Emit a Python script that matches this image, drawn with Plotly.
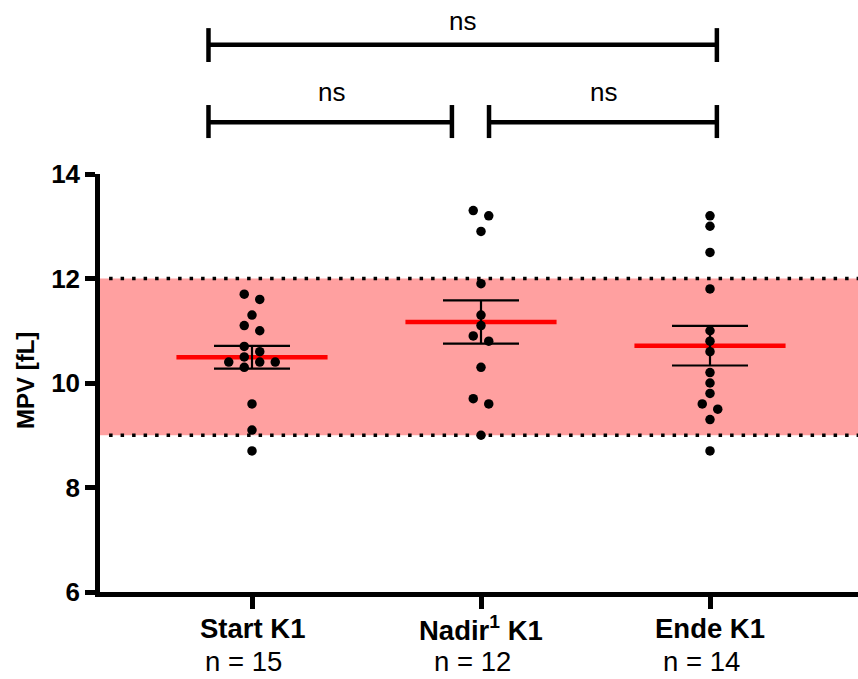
import numpy as np
import plotly.graph_objects as go

# ---------------- data ----------------
categories = ["Start K1", "Nadir<sup>1</sup> K1", "Ende K1"]
n_labels = ["n = 15", "n = 12", "n = 14"]
start_k1 = [11.7, 11.6, 11.3, 11.1, 11.0, 10.7, 10.6, 10.5, 10.4, 10.4, 10.4, 10.3, 9.6, 9.1, 8.7]
nadir_k1 = [13.3, 13.2, 12.9, 11.9, 11.3, 11.1, 10.9, 10.8, 10.3, 9.7, 9.6, 9.0]
ende_k1 = [13.2, 13.0, 12.5, 11.8, 11.0, 10.8, 10.6, 10.2, 10.0, 9.8, 9.6, 9.5, 9.3, 8.7]
groups = [start_k1, nadir_k1, ende_k1]
ref_low, ref_high = 9, 12
y_ticks = [6, 8, 10, 12, 14]
y_title = "MPV [fL]"
sig_labels = ["ns", "ns", "ns"]

# ---------------- style / layout ----------------
W, H = 858, 679
M_L, M_R, M_T, M_B = 100, 0, 174, 87
Y_RANGE = [6, 14]
CAT_PX = 229.0            # px between categories
CAT0_PX = 152.0           # px from left plot edge to first category
plot_w = W - M_L - M_R
plot_h = H - M_T - M_B
X_RANGE = [-CAT0_PX / CAT_PX, (plot_w - CAT0_PX) / CAT_PX]
px_per_unit_y = plot_h / (Y_RANGE[1] - Y_RANGE[0])

FONT = "Liberation Sans, Arial, Helvetica, sans-serif"
BAND_COLOR = "#FFA0A0"
LW = 4.5

# bracket layout (x ends in category units, levels in paper units)
brackets = [
    dict(x0=-0.19, x1=2.03, y=1.309, ytop=1.349, ybot=1.268, tx=0.921, ty=1.366),
    dict(x0=-0.19, x1=0.873, y=1.124, ytop=1.165, ybot=1.086, tx=0.345, ty=1.197),
    dict(x0=1.035, x1=2.03, y=1.124, ytop=1.165, ybot=1.086, tx=1.533, ty=1.197),
]


def swarm_offsets(vals, step_px=7.75, min_dist=9.5):
    """Beeswarm offsets (category units) from the values: isolated points
    stay centred, overlapping clusters are spread on a half-step grid."""
    order = np.argsort(-np.asarray(vals), kind="stable")
    ys = np.asarray(vals, dtype=float) * px_per_unit_y
    clusters, cur = [], [order[0]]
    for a, b in zip(order[:-1], order[1:]):
        if abs(ys[a] - ys[b]) < min_dist:
            cur.append(b)
        else:
            clusters.append(cur)
            cur = [b]
    clusters.append(cur)
    offs = np.zeros(len(vals))
    for cl in clusters:
        if len(cl) == 1:
            continue
        placed = []
        for idx in cl:
            k = 1
            cands = []
            while len(cands) < 20:
                cands += [-k * step_px, k * step_px]
                k += 2
            for cx in cands:
                if all((cx - px) ** 2 + (ys[idx] - py) ** 2 >= min_dist ** 2 for px, py in placed):
                    break
            placed.append((cx, ys[idx]))
            offs[idx] = cx
    return offs / CAT_PX


fig = go.Figure()

# reference band
fig.add_shape(type="rect", xref="paper", yref="y", x0=0, x1=1, y0=ref_low, y1=ref_high,
              fillcolor=BAND_COLOR, line_width=0, layer="below")
for yv in (ref_low, ref_high):
    fig.add_shape(type="line", xref="paper", yref="y", x0=0.012, x1=1, y0=yv, y1=yv,
                  line=dict(color="black", width=3.5, dash="3.5px,8px"), layer="below")

for i, vals in enumerate(groups):
    arr = np.asarray(vals, dtype=float)
    mean = arr.mean()
    sem = arr.std(ddof=1) / np.sqrt(len(arr))
    fig.add_trace(go.Scatter(x=[i - 0.33, i + 0.33], y=[mean, mean], mode="lines",
                             line=dict(color="#FF0000", width=4.5), hoverinfo="skip"))
    fig.add_trace(go.Scatter(x=[i], y=[mean], mode="markers", marker=dict(size=1, opacity=0),
                             error_y=dict(type="data", array=[sem], symmetric=True,
                                          color="black", thickness=2.2, width=38),
                             hoverinfo="skip"))
    offs = swarm_offsets(vals)
    fig.add_trace(go.Scatter(x=i + offs, y=arr, mode="markers",
                             marker=dict(color="black", size=9.5, line_width=0)))

# significance brackets
for b, lab in zip(brackets, sig_labels):
    fig.add_shape(type="line", xref="x", yref="paper", x0=b["x0"], x1=b["x1"], y0=b["y"], y1=b["y"],
                  line=dict(color="black", width=LW))
    for xe in (b["x0"], b["x1"]):
        fig.add_shape(type="line", xref="x", yref="paper", x0=xe, x1=xe, y0=b["ybot"], y1=b["ytop"],
                      line=dict(color="black", width=LW))
    fig.add_annotation(x=b["tx"], y=b["ty"], xref="x", yref="paper", text=lab, showarrow=False,
                       font=dict(family=FONT, size=26, color="black"), xanchor="center", yanchor="middle")

# category labels
for i, (cat, nl) in enumerate(zip(categories, n_labels)):
    fig.add_annotation(x=i, y=-0.088, xref="x", yref="paper", text=cat, showarrow=False,
                       font=dict(family=FONT, size=27.5, color="black", weight="bold"),
                       xanchor="center", yanchor="middle")
    fig.add_annotation(x=i, y=-0.2065, xref="x", yref="paper", text=nl, showarrow=False, xshift=-9,
                       font=dict(family=FONT, size=27.5, color="black"), borderpad=0,
                       xanchor="center", yanchor="bottom")

# y axis title
fig.add_annotation(x=-0.099, y=0.507, xref="paper", yref="paper", text=y_title, showarrow=False,
                   textangle=-90, font=dict(family=FONT, size=24, color="black", weight="bold"),
                   xanchor="center", yanchor="middle")

fig.update_layout(
    width=W, height=H, margin=dict(l=M_L, r=M_R, t=M_T, b=M_B, pad=0),
    plot_bgcolor="white", paper_bgcolor="white", showlegend=False,
    font=dict(family=FONT, color="black"),
)
fig.update_xaxes(range=X_RANGE, tickvals=[0, 1, 2], showticklabels=False, ticks="outside",
                 ticklen=12, tickwidth=LW, tickcolor="black", showline=True, linecolor="black",
                 linewidth=LW, showgrid=False, zeroline=False, fixedrange=True)
fig.update_yaxes(range=Y_RANGE, tickvals=y_ticks, ticks="outside", ticklen=10, tickwidth=LW,
                 tickcolor="black", showline=True, linecolor="black", linewidth=LW,
                 showgrid=False, zeroline=False,
                 tickfont=dict(family=FONT, size=26, color="black", weight="bold"))

fig.write_html("out.html")
